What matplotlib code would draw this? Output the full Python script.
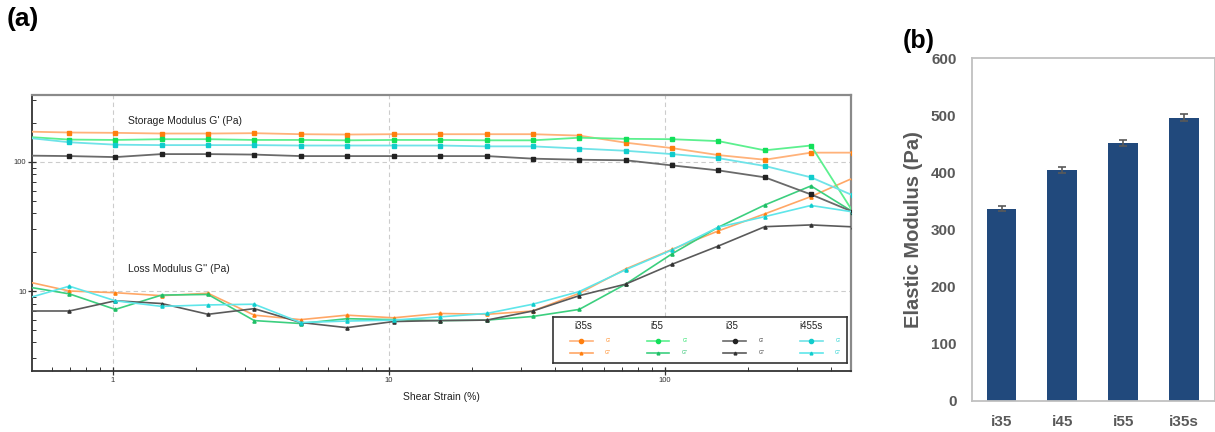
import matplotlib
matplotlib.use("Agg")
import matplotlib.pyplot as plt
from matplotlib.ticker import LogLocator, FixedLocator, FixedFormatter, NullFormatter

plt.rcParams['font.family'] = ['Liberation Sans', 'DejaVu Sans']

W, H = 1215, 432

# ---- (a) amplitude sweep ----
strain = [0.473, 0.695, 1.02, 1.50, 2.21, 3.25, 4.79, 7.04, 10.4, 15.3,
          22.6, 33.2, 48.9, 72.0, 106, 156, 230, 338, 480]

samples = ["i35s", "i55", "i35", "i455s"]

# storage modulus G' (Pa)
gp_i35s = [172, 169, 168, 166, 166, 167, 164, 163, 164, 164,
           164, 164, 160, 141, 128, 113, 104, 118, 118]
gp_i55 = [157, 149, 148, 150, 150, 148, 148, 147, 148, 148,
          147, 147, 154, 151, 150, 145, 123, 134, 41]
gp_i35 = [112, 111, 109, 115, 115, 114, 111, 111, 111, 111,
          111, 106, 104, 103, 94, 86, 76, 56, 41]
gp_i455s = [155, 142, 136, 135, 135, 135, 134, 134, 134, 134,
            132, 132, 127, 122, 115, 107, 93, 76, 55]

# loss modulus G'' (Pa)
gpp_i35s = [12.0, 10.0, 9.7, 9.2, 9.6, 6.5, 6.0, 6.5, 6.2, 6.7,
            6.6, 7.0, 9.6, 14.8, 21.0, 29.2, 39.6, 53.9, 75]
gpp_i55 = [10.9, 9.5, 7.2, 9.3, 9.4, 5.9, 5.6, 6.1, 6.0, 5.9,
           5.95, 6.35, 7.2, 11.3, 19.4, 31.2, 46.4, 65.2, 41]
gpp_i35 = [7.0, 7.0, 8.4, 8.0, 6.6, 7.3, 5.7, 5.2, 5.8, 5.9,
           5.95, 7.0, 9.2, 11.3, 16.1, 22.3, 31.5, 32.5, 31.4]
gpp_i455s = [8.6, 10.9, 8.4, 7.6, 7.8, 7.9, 5.7, 5.85, 5.95, 6.3,
             6.7, 7.9, 9.9, 14.6, 20.8, 31.2, 37.7, 46.0, 41]

# ---- (b) elastic modulus ----
groups = ["i35", "i45", "i55", "i35s"]
modulus = [337, 405, 452, 496]
modulus_err = [5, 5, 5, 6]

# colours: (G' line, G' marker, G'' line, G'' marker)
colors = {
    "i35s": ("#ffb27a", "#ff7f0e", "#ffa766", "#ff7f0e"),
    "i55": ("#5cf08f", "#12e05a", "#3ccf7f", "#1fbf66"),
    "i35": ("#6a6a6a", "#222222", "#5a5a5a", "#333333"),
    "i455s": ("#6fe3e8", "#10cccc", "#5fe6ea", "#10cccc"),
}
gp = {"i35s": gp_i35s, "i55": gp_i55, "i35": gp_i35, "i455s": gp_i455s}
gpp = {"i35s": gpp_i35s, "i55": gpp_i55, "i35": gpp_i35, "i455s": gpp_i455s}

fig = plt.figure(figsize=(W / 100, H / 100), dpi=100)

ax = fig.add_axes([32 / W, 1 - 371 / H, 819 / W, 276 / H])
for s in samples:
    lc, mc, lc2, mc2 = colors[s]
    ax.plot(strain, gp[s], color=lc, lw=1.3, marker="s", ms=3.5,
            mfc=mc, mec=mc, zorder=3)
    ax.plot(strain, gpp[s], color=lc2, lw=1.2, marker="^", ms=2.3,
            mfc=mc2, mec=mc2, zorder=3)

ax.set_xscale("log")
ax.set_yscale("log")
ax.set_xlim(0.509, 472)
ax.set_ylim(2.40, 330)
ax.xaxis.set_major_locator(FixedLocator([1, 10, 100]))
ax.xaxis.set_major_formatter(FixedFormatter(["1", "10", "100"]))
ax.xaxis.set_minor_locator(LogLocator(base=10, subs=range(2, 10)))
ax.xaxis.set_minor_formatter(NullFormatter())
ax.yaxis.set_major_locator(FixedLocator([10, 100]))
ax.yaxis.set_major_formatter(FixedFormatter(["10", "100"]))
ax.yaxis.set_minor_locator(LogLocator(base=10, subs=range(2, 10)))
ax.yaxis.set_minor_formatter(NullFormatter())
ax.tick_params(which="major", direction="inout", length=6, width=0.9,
               labelsize=5.5, pad=1, colors="#333333")
ax.tick_params(which="minor", direction="in", length=3, width=0.7,
               colors="#333333")
ax.grid(True, which="major", ls=(0, (4, 3)), color="#cccccc", lw=0.8)
for side in ["top", "right"]:
    ax.spines[side].set_color("#8a8a8a")
    ax.spines[side].set_linewidth(1.6)
for side in ["left", "bottom"]:
    ax.spines[side].set_color("#333333")
    ax.spines[side].set_linewidth(1.3)
ax.text(0.1176, 0.907, "Storage Modulus G' (Pa)", transform=ax.transAxes,
        fontsize=7.5, va="center", color="#222222")
ax.text(0.1176, 0.3696, "Loss Modulus G'' (Pa)", transform=ax.transAxes,
        fontsize=7.5, va="center", color="#222222")
ax.set_xlabel("Shear Strain (%)", fontsize=7.5, labelpad=6, color="#222222")

# legend box drawn as a small axes
lax = fig.add_axes([553.3 / W, 1 - 363.3 / H, 294 / W, 46 / H])
lax.set_xlim(553.3, 847.3)
lax.set_ylim(363.3, 317.3)
lax.set_xticks([])
lax.set_yticks([])
for sp in lax.spines.values():
    sp.set_color("#333333")
    sp.set_linewidth(1.2)
head_x = [583.3, 657.3, 732.0, 810.7]
line_x = [570.0, 646.7, 723.3, 800.0]
for s, hx, lx in zip(samples, head_x, line_x):
    lc, mc, lc2, mc2 = colors[s]
    lax.text(hx, 325.7, s, ha="center", va="center", fontsize=7,
             color="#222222")
    lax.plot([lx, lx + 22.5], [341, 341], color=lc, lw=1.2)
    lax.plot([lx + 11.2], [341], marker="o", ms=3, color=mc)
    lax.plot([lx, lx + 22.5], [352.7, 352.7], color=lc2, lw=1.2)
    lax.plot([lx + 11.2], [352.7], marker="^", ms=2, color=mc2)
    lax.text(lx + 38, 341, "G'", ha="center", va="center", fontsize=3.5,
             color=mc)
    lax.text(lx + 38, 352.7, "G''", ha="center", va="center", fontsize=3.5,
             color=mc2)

# ---- (b) bars ----
bx = fig.add_axes([971.7 / W, 1 - 401 / H, (W - 971.7) / W, 342.7 / H])
pos = list(range(len(groups)))
bx.bar(pos, modulus, width=0.49, color="#21497c", zorder=2)
bx.errorbar(pos, modulus, yerr=modulus_err, fmt="none", ecolor="#595959",
            elinewidth=1.2, capsize=3, capthick=1.2, zorder=3)
bx.set_xlim(-0.49, 3.51)
bx.set_ylim(0, 600)
bx.set_yticks(range(0, 601, 100))
bx.set_xticks(pos)
bx.set_xticklabels(groups)
bx.tick_params(length=0, labelsize=11, colors="#595959")
bx.tick_params(axis="y", pad=11)
bx.tick_params(axis="x", pad=10)
for lbl in bx.get_xticklabels() + bx.get_yticklabels():
    lbl.set_fontweight("bold")
bx.set_ylabel("Elastic Modulus (Pa)", fontsize=14.5, fontweight="bold",
              color="#595959", labelpad=6)
for sp in bx.spines.values():
    sp.set_color("#c0c0c0")
    sp.set_linewidth(1.3)

fig.text(7 / W, 1 - 19 / H, "(a)", fontsize=19, fontweight="bold",
         va="center", ha="left")
fig.text(903 / W, 1 - 41 / H, "(b)", fontsize=18, fontweight="bold",
         va="center", ha="left")

fig.savefig("out.png", dpi=100)
